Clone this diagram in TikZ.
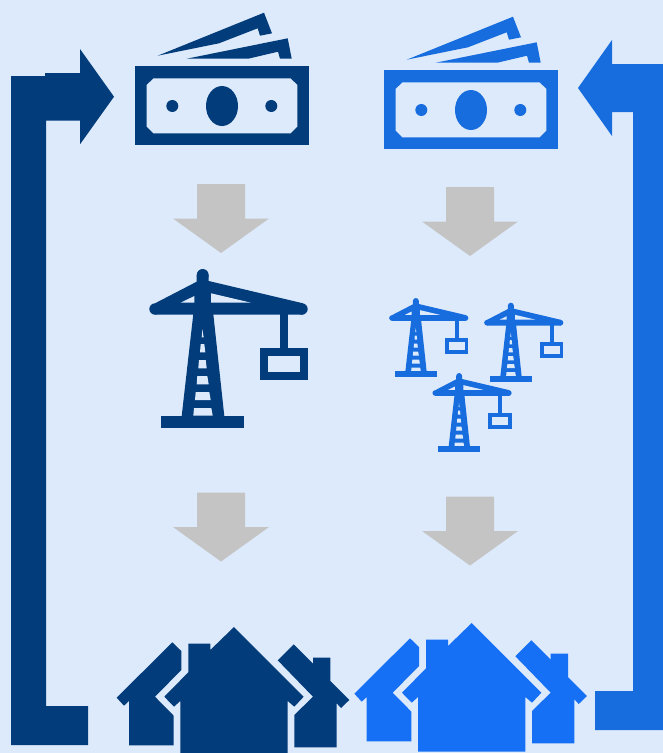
\documentclass[tikz,border=0pt]{standalone}
\definecolor{pagebg}{HTML}{DDEAFB}
\definecolor{navy}{HTML}{023C7A}
\definecolor{midblue}{HTML}{176DDE}
\definecolor{brightblue}{HTML}{1670F5}
\definecolor{arrowgray}{HTML}{C4C4C4}
\tikzset{
    pics/money/.style={code={
        \fill[#1] (135,66) rectangle (309,145);
        \fill[pagebg] (153.5,78.3) -- (290.5,78.3) -- (297.3,85) -- (297.3,126.5) -- (290.5,133.3) -- (153.5,133.3) -- (146.7,126.5) -- (146.7,85) -- cycle;
        \fill[#1] (222,106) ellipse (16 and 20);
        \fill[#1] (172.3,106) circle (6);
        \fill[#1] (271.3,106) circle (6);
        \fill[#1] (157.7,55.7) -- (264,12.7) -- (272,33.3) -- (260,35.7) -- (257.7,28.3) -- (219,43.3) -- cycle;
        \fill[#1] (186.7,58.7) -- (287.7,38.3) -- (291.7,58.7) -- (280,58.7) -- (278,51.7) -- (248.3,58.7) -- cycle;
    }},
    pics/crane/.style={code={
        \begin{scope}[shift={(-149,-269)}]
            % jib and stays
            \fill[#1] (155,303.3) -- (196.7,281.7) -- (196.7,275) -- (208.7,275) -- (208.7,281) -- (303,303.3) -- (303,314.7) -- (155,314.7) -- cycle;
            \fill[#1] (202.7,275) circle (6);
            \fill[#1] (155,309) circle (5.7);
            \fill[#1] (302,309) circle (5.7);
            \fill[pagebg] (180.7,302.7) -- (194.3,296) -- (194.3,302.7) -- cycle;
            \fill[pagebg] (211,293.3) -- (251,302.7) -- (211,302.7) -- cycle;
            % mast
            \fill[#1] (193.3,314) -- (213.3,314) -- (224.3,416) -- (181.7,416) -- cycle;
            \fill[pagebg] (202.3,329.3) -- (203.7,337.3) -- (201.7,337.3) -- cycle;
            \foreach \ya/\yb/\xa/\xb/\xc/\xd in {344/352.3/200.7/204.3/200/205.3,
                360/368.3/199/205.7/198.3/206.7, 376/384.3/197.3/207.3/196.7/208.7,
                392/400/195.7/209.3/195/210.7, 408/415.7/194/211.3/193.3/212.7}
                \fill[pagebg] (\xa,\ya) -- (\xb,\ya) -- (\xd,\yb) -- (\xc,\yb) -- cycle;
            \fill[#1] (161.3,415.7) rectangle (244.3,427.7);
            % load
            \fill[#1] (280,314) rectangle (288,349);
            \fill[#1] (260.3,348.3) rectangle (307.7,380);
            \fill[pagebg] (268.3,356.3) rectangle (300,372.3);
        \end{scope}
    }},
    pics/houses/.style={code={
        \fill[#1] (234,627) -- (303.7,696.7) -- (294.3,706.7) -- (287.7,701) -- (287.7,755.7) -- (180.3,755.7) -- (180.3,701) -- (174,706.7) -- (164.3,696.7) -- (188.3,672.3) -- (188.3,643.7) -- (210.3,643.7) -- (210.3,650) -- cycle;
        \fill[#1] (116.7,697.7) -- (172.3,642.3) -- (181.3,651) -- (181.3,670) -- (155,696.7) -- (173.7,715.7) -- (173.7,745.3) -- (129,745.3) -- (129,701) -- (124,705.7) -- cycle;
        \fill[#1] (277.7,660.3) -- (293.7,644.3) -- (313,663.7) -- (313,657.7) -- (330.3,657.7) -- (330.3,681) -- (349.3,700) -- (341,708) -- (336.7,703.3) -- (336.7,747.3) -- (294.3,747.3) -- (294.3,715) -- (313,696.7) -- cycle;
    }},
    pics/dropdown/.style={code={
        \fill[arrowgray] (24,0) -- (72,0) -- (72,34.5) -- (96,34.5) -- (48,69) -- (0,34.5) -- (24,34.5) -- cycle;
    }}
}
\begin{document}
\begin{tikzpicture}[x=1pt, y=-1pt]
    \useasboundingbox (0,0) rectangle (663,753);
    \clip (0,0) rectangle (663,753);
    \fill[pagebg] (0,0) rectangle (663,753);

    % return arrows
    \fill[navy] (11,76) -- (45,76) -- (45,73) -- (80,73) -- (80,49) -- (114,96.7) -- (80,144.3) -- (80,120.7) -- (46,120.7) -- (46,706) -- (88,706) -- (88,745) -- (11,745) -- cycle;
    \fill[midblue] (663,64) -- (612,64) -- (612,40) -- (578,88) -- (612,136) -- (612,112) -- (633,112) -- (633,691) -- (595,691) -- (595,730) -- (663,730) -- cycle;

    % left column
    \pic at (0,0) {money=navy};
    \pic at (173,184) {dropdown};
    \pic at (149,269) {crane=navy};
    \pic at (173,492.5) {dropdown};
    \pic at (0,0) {houses=navy};

    % right column
    \pic at (249,4) {money=midblue};
    \pic at (422,187) {dropdown};
    \pic[scale=.5] at (389,298) {crane=midblue};
    \pic[scale=.5] at (484,302.7) {crane=midblue};
    \pic[scale=.5] at (432.3,373) {crane=midblue};
    \pic at (422,496.5) {dropdown};
    \pic at (237.7,-4) {houses=brightblue};
\end{tikzpicture}
\end{document}
